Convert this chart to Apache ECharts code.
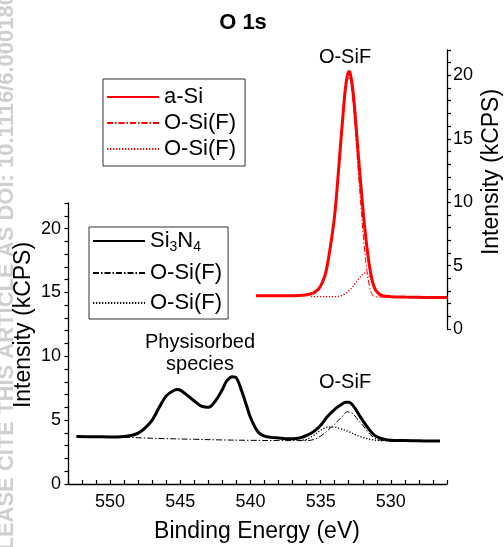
<!DOCTYPE html>
<html><head><meta charset="utf-8">
<script src="https://cdn.jsdelivr.net/npm/echarts@6/dist/echarts.min.js"></script>
<style>html,body{margin:0;padding:0;background:#fff}#c{width:504px;height:547px}</style>
</head><body><div id="c"></div>
<script>
// ---- data (binding energy in eV, intensity in kCPS) ----
const redSolidE = [539.6, 539, 538, 537, 536.5, 536, 535.5, 535.2, 535, 534.7, 534.5, 534.2, 534, 533.8, 533.6, 533.4, 533.2, 533.0, 532.9, 532.7, 532.5, 532.3, 532.1, 531.9, 531.7, 531.5, 531.3, 531.1, 530.8, 530.5, 530, 529, 528, 527, 526];
const redSolidV = [2.62, 2.63, 2.62, 2.62, 2.65, 2.7, 2.85, 3.1, 3.4, 4.2, 5.2, 7.3, 9.0, 11.5, 14.3, 17.0, 19.3, 20.3, 20.2, 18.8, 16.3, 13.5, 10.9, 8.4, 6.4, 4.8, 3.7, 3.1, 2.75, 2.6, 2.55, 2.52, 2.5, 2.48, 2.48];
const redDashDotE = [539.6, 537, 536, 535.5, 535, 534.7, 534.5, 534.2, 534, 533.8, 533.6, 533.4, 533.2, 533.0, 532.9, 532.7, 532.5, 532.3, 532.1, 531.9, 531.7, 531.5, 531.3, 531.1, 530.8, 530, 528, 526];
const redDashDotV = [2.6, 2.6, 2.63, 2.78, 3.33, 4.12, 5.1, 7.2, 8.9, 11.4, 14.2, 16.8, 19.0, 19.8, 19.7, 18.0, 15.2, 12.1, 9.25, 6.55, 4.55, 3.25, 2.65, 2.55, 2.52, 2.5, 2.48, 2.48];
const redDotE = [535.7, 535, 534, 533.6, 533.3, 533, 532.7, 532.4, 532.1, 531.9, 531.7, 531.5, 531.3, 531.1, 530.9, 530.7, 530.5];
const redDotV = [2.55, 2.55, 2.55, 2.6, 2.75, 3.0, 3.35, 3.8, 4.2, 4.4, 4.4, 4.1, 3.6, 3.05, 2.7, 2.58, 2.55];

const blkSolidE = [552.4, 551, 550, 549, 548.5, 548, 547.5, 547, 546.5, 546, 545.5, 545.2, 545, 544.5, 544, 543.5, 543, 542.5, 542, 541.7, 541.3, 541, 540.6, 540.3, 540, 539.7, 539.4, 539, 538.5, 538, 537.5, 537, 536.5, 536, 535.5, 535, 534.5, 534, 533.5, 533.2, 533, 532.6, 532.2, 531.7, 531.3, 531, 530.5, 530, 529, 528, 527, 526.5];
const blkSolidV = [3.72, 3.7, 3.68, 3.72, 3.8, 3.98, 4.4, 5.0, 6.0, 6.9, 7.3, 7.4, 7.35, 6.95, 6.5, 6.1, 6.0, 6.5, 7.4, 8.05, 8.4, 8.3, 7.2, 6.2, 5.2, 4.5, 4.0, 3.75, 3.65, 3.6, 3.55, 3.55, 3.6, 3.8, 4.1, 4.6, 5.3, 5.85, 6.25, 6.4, 6.4, 6.0, 5.3, 4.5, 3.95, 3.7, 3.5, 3.42, 3.4, 3.38, 3.36, 3.36];
const blkDashDotE = [549, 548, 546, 544, 542, 540, 538, 536, 535.5, 535, 534.5, 534, 533.5, 533.1, 532.7, 532.3, 532, 531.5, 531, 530.5, 530, 528, 526.5];
const blkDashDotV = [3.68, 3.62, 3.55, 3.5, 3.45, 3.42, 3.4, 3.4, 3.48, 3.75, 4.2, 4.7, 5.25, 5.65, 5.5, 4.95, 4.6, 3.9, 3.5, 3.4, 3.36, 3.35, 3.35];
const blkDotE = [536.5, 536, 535.5, 535, 534.5, 534, 533.5, 533, 532.5, 532, 531.5, 531, 530.5];
const blkDotV = [3.4, 3.5, 3.8, 4.2, 4.45, 4.45, 4.3, 4.1, 3.85, 3.65, 3.5, 3.42, 3.38];

const xTickLabels = [530, 535, 540, 545, 550];
const yTickLabels = [0, 5, 10, 15, 20];

const legendText = {
  aSi: 'a-Si', rDD: 'O-Si(F)', rDot: 'O-Si(F)',
  Si3N4: '{a|Si}{s|3}{a|N}{s|4}', bDD: 'O-Si(F)', bDot: 'O-Si(F)'
};

// ---- chart ----
const FONT = '"Liberation Sans", Arial, Helvetica, sans-serif';
const pairs = (e, v) => e.map((x, i) => [x, v[i]]);
const RED = '#ff0000';

const chart = echarts.init(document.getElementById('c'), null, {renderer: 'canvas'});

function lineSeries(name, xi, yi, data, color, width, type) {
  return {
    name, type: 'line', xAxisIndex: xi, yAxisIndex: yi, data,
    symbol: 'none', smooth: 0.35, animation: false, silent: true,
    lineStyle: {color, width, type},
    itemStyle: {color}
  };
}

const xBase = {
  type: 'value', min: 526, max: 553, inverse: true, interval: 1,
  splitLine: {show: false}
};

const legendBase = {
  orient: 'vertical', selectedMode: false, itemWidth: 52, itemHeight: 14, itemGap: 4,
  borderColor: '#333', borderWidth: 1,
  itemStyle: {opacity: 0},
  formatter: n => legendText[n]
};

chart.setOption({
  animation: false,
  backgroundColor: '#fff',
  grid: [
    {left: 68, top: 203, width: 379, height: 281},
    {left: 68, top: 50, width: 379, height: 279}
  ],
  xAxis: [
    Object.assign({}, xBase, {
      gridIndex: 0,
      axisLine: {lineStyle: {color: '#000', width: 1.3}},
      axisTick: {inside: true, length: 4, lineStyle: {color: '#000', width: 1.2}},
      axisLabel: {
        margin: 9, color: '#000', fontSize: 18, fontFamily: FONT,
        formatter: v => (xTickLabels.indexOf(v) >= 0 ? String(v) : '')
      }
    }),
    Object.assign({}, xBase, {gridIndex: 1, show: false})
  ],
  yAxis: [
    {
      type: 'value', gridIndex: 0, min: 0, max: 22, interval: 1, position: 'left',
      splitLine: {show: false},
      axisLine: {show: true, lineStyle: {color: '#000', width: 1.3}},
      axisTick: {show: true, inside: false, length: 3.5, lineStyle: {color: '#000', width: 1.2}},
      axisLabel: {
        margin: 7, color: '#000', fontSize: 18, fontFamily: FONT,
        formatter: v => (yTickLabels.indexOf(v) >= 0 ? String(v) : '')
      }
    },
    {
      type: 'value', gridIndex: 1, min: 0, max: 22, interval: 1, position: 'right',
      splitLine: {show: false},
      axisLine: {show: true, lineStyle: {color: '#000', width: 1.3}},
      axisTick: {show: true, inside: false, length: 4, lineStyle: {color: '#000', width: 1.2}},
      axisLabel: {
        margin: 6, color: '#000', fontSize: 18, fontFamily: FONT,
        formatter: v => (yTickLabels.indexOf(v) >= 0 ? String(v) : '')
      }
    }
  ],
  legend: [
    Object.assign({}, legendBase, {
      data: ['aSi', 'rDD', 'rDot'], left: 103, top: 79,
      padding: [7, 9, 6, 3],
      textStyle: {fontSize: 22, color: '#000', fontFamily: FONT}
    }),
    Object.assign({}, legendBase, {
      data: ['Si3N4', 'bDD', 'bDot'], left: 89, top: 227,
      padding: [3, 6, 5, 3], itemGap: 8,
      textStyle: {
        fontSize: 22, color: '#000', fontFamily: FONT,
        rich: {
          a: {fontSize: 22, fontFamily: FONT, color: '#000', padding: [8, 0, 8, 0]},
          s: {fontSize: 14, fontFamily: FONT, color: '#000', padding: [18, 0, 6, 0]}
        }
      }
    })
  ],
  series: [
    lineSeries('bDD', 0, 0, pairs(blkDashDotE, blkDashDotV), '#000', 1, [6, 2, 1.5, 2]),
    lineSeries('bDot', 0, 0, pairs(blkDotE, blkDotV), '#000', 1.3, [1.3, 1.7]),
    lineSeries('Si3N4', 0, 0, pairs(blkSolidE, blkSolidV), '#000', 3, 'solid'),
    lineSeries('rDD', 1, 1, pairs(redDashDotE, redDashDotV), RED, 1, [6, 2, 1.5, 2]),
    lineSeries('rDot', 1, 1, pairs(redDotE, redDotV), RED, 1.3, [1.3, 1.7]),
    lineSeries('aSi', 1, 1, pairs(redSolidE, redSolidV), RED, 3, 'solid')
  ],
  graphic: [
    {type: 'text', x: 7, y: 273, rotation: Math.PI / 2, silent: true, z: -10,
     style: {text: 'PLEASE CITE THIS ARTICLE AS DOI: 10.1116/6.0001803', font: 'bold 22px ' + FONT,
             fill: '#cfcfcf', align: 'center', verticalAlign: 'middle'}},
    {type: 'text', x: 243, y: 23, silent: true,
     style: {text: 'O 1s', font: 'bold 22px ' + FONT, fill: '#000', align: 'center', verticalAlign: 'middle'}},
    {type: 'text', x: 24, y: 325, rotation: Math.PI / 2, silent: true,
     style: {text: 'Intensity (kCPS)', font: '23px ' + FONT, fill: '#000', align: 'center', verticalAlign: 'middle'}},
    {type: 'text', x: 492, y: 172, rotation: Math.PI / 2, silent: true,
     style: {text: 'Intensity (kCPS)', font: '23px ' + FONT, fill: '#000', align: 'center', verticalAlign: 'middle'}},
    {type: 'text', x: 257, y: 532, silent: true,
     style: {text: 'Binding Energy (eV)', font: '23px ' + FONT, fill: '#000', align: 'center', verticalAlign: 'middle'}},
    {type: 'text', x: 345, y: 57, silent: true,
     style: {text: 'O-SiF', font: '20px ' + FONT, fill: '#000', align: 'center', verticalAlign: 'middle'}},
    {type: 'text', x: 345, y: 382, silent: true,
     style: {text: 'O-SiF', font: '20px ' + FONT, fill: '#000', align: 'center', verticalAlign: 'middle'}},
    {type: 'text', x: 200, y: 342, silent: true,
     style: {text: 'Physisorbed', font: '20px ' + FONT, fill: '#000', align: 'center', verticalAlign: 'middle'}},
    {type: 'text', x: 200, y: 364, silent: true,
     style: {text: 'species', font: '20px ' + FONT, fill: '#000', align: 'center', verticalAlign: 'middle'}}
  ]
});
</script>
</body></html>
